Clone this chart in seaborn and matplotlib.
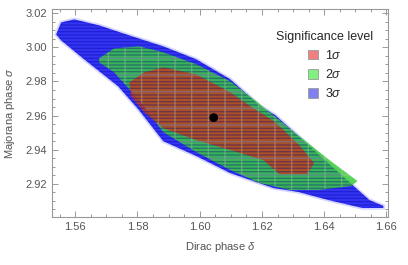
import matplotlib
matplotlib.use('Agg')
import matplotlib.pyplot as plt
import seaborn as sns
from matplotlib.ticker import MultipleLocator, FormatStrFormatter
from matplotlib.patches import Patch

# region outlines: (Dirac phase delta, Majorana phase sigma)
delta_3s = [1.5539, 1.5555, 1.5597, 1.5677, 1.5774, 1.5883, 1.5989, 1.6098, 1.6195, 1.6243,
            1.6349, 1.6458, 1.6545, 1.6590, 1.6590, 1.6523, 1.6413, 1.6317, 1.6237, 1.6098,
            1.5989, 1.5883, 1.5803, 1.5738, 1.5629, 1.5555]
sigma_3s = [3.0076, 3.0146, 3.0164, 3.0129, 3.0070, 3.0006, 2.9930, 2.9813, 2.9655, 2.9602,
            2.9427, 2.9246, 2.9105, 2.9070, 2.9058, 2.9058, 2.9105, 2.9152, 2.9175, 2.9263,
            2.9363, 2.9450, 2.9637, 2.9772, 2.9930, 3.0041]

delta_2s = [1.5677, 1.5725, 1.5806, 1.5883, 1.5989, 1.6098, 1.6182, 1.6288, 1.6417, 1.6507,
            1.6487, 1.6384, 1.6288, 1.6192, 1.6098, 1.5989, 1.5883, 1.5806, 1.5725, 1.5677]
sigma_2s = [2.9936, 2.9994, 3.0006, 2.9971, 2.9901, 2.9801, 2.9684, 2.9526, 2.9339, 2.9216,
            2.9187, 2.9164, 2.9164, 2.9205, 2.9281, 2.9386, 2.9503, 2.9690, 2.9854, 2.9912]

delta_1s = [1.5774, 1.5822, 1.5883, 1.5989, 1.6098, 1.6163, 1.6243, 1.6320, 1.6368,
            1.6346, 1.6256, 1.6204, 1.6098, 1.5989, 1.5883, 1.5822, 1.5780]
sigma_1s = [2.9795, 2.9854, 2.9883, 2.9842, 2.9737, 2.9655, 2.9561, 2.9427, 2.9322,
            2.9257, 2.9257, 2.9339, 2.9398, 2.9456, 2.9526, 2.9620, 2.9713]

best_delta = [1.6045]
best_sigma = [2.9588]

levels = ['1$\\sigma$', '2$\\sigma$', '3$\\sigma$']
legend_colors = ['#f08080', '#80f080', '#8080f0']

sns.set_style('ticks', {'axes.facecolor': 'white', 'figure.facecolor': 'white'})
plt.rcParams['font.family'] = ['Liberation Sans', 'DejaVu Sans']
plt.rcParams['mathtext.fontset'] = 'custom'
plt.rcParams['mathtext.it'] = 'Liberation Sans:italic'
plt.rcParams['mathtext.rm'] = 'Liberation Sans'
plt.rcParams['hatch.linewidth'] = 1.0

fig, ax = plt.subplots(figsize=(4.08, 2.65), dpi=100)
fig.subplots_adjust(left=0.127, right=0.951, bottom=0.181, top=0.966)
ax.set_facecolor('white')

# fuzzy outer edge of the cloud
ax.fill(delta_3s, sigma_3s, facecolor='none', edgecolor=(0.45, 0.45, 1.0, 0.3), lw=2.5, zorder=0)
ax.fill(delta_3s, sigma_3s, color='#1e1ef5', alpha=0.9, lw=0, zorder=1)
ax.fill(delta_2s, sigma_2s, color='#3ccc3c', alpha=0.85, lw=0, zorder=2)
ax.fill(delta_1s, sigma_1s, color='#c0401e', alpha=0.85, lw=0, zorder=3)
ax.fill(delta_3s, sigma_3s, facecolor='none', edgecolor=(0.0, 0.0, 0.55, 0.35), hatch='-----', lw=0, zorder=4)
ax.fill(delta_2s, sigma_2s, facecolor='none', edgecolor=(0.75, 0.8, 0.75, 0.35), hatch='+', lw=0, zorder=4)

sns.scatterplot(x=best_delta, y=best_sigma, ax=ax, color='black', s=40, zorder=5, edgecolor='none')

ax.set_xlim(1.5525, 1.6605)
ax.set_ylim(2.9005, 3.0225)
ax.xaxis.set_major_locator(MultipleLocator(0.02))
ax.xaxis.set_minor_locator(MultipleLocator(0.005))
ax.yaxis.set_major_locator(MultipleLocator(0.02))
ax.yaxis.set_minor_locator(MultipleLocator(0.005))
ax.xaxis.set_major_formatter(FormatStrFormatter('%.2f'))
ax.yaxis.set_major_formatter(FormatStrFormatter('%.2f'))
ax.tick_params(which='both', direction='in', top=True, right=True, color='#999999',
               labelcolor='#555555', labelsize=8, width=0.7)
ax.tick_params(which='major', length=4)
ax.tick_params(which='minor', length=2)
for sp in ax.spines.values():
    sp.set_color('#999999')
    sp.set_linewidth(0.8)

ax.set_xlabel('Dirac phase $\\delta$', fontsize=8, color='#555555', labelpad=6)
ax.set_ylabel('Majorana phase $\\sigma$', fontsize=8, color='#555555', labelpad=6)

handles = [Patch(facecolor=c, edgecolor='#999999', lw=0.6) for c in legend_colors]
leg = ax.legend(handles, levels, title='Significance level', frameon=False, fontsize=9,
                title_fontsize=9, loc='upper right', bbox_to_anchor=(0.99, 0.95),
                handlelength=0.8, handleheight=0.8, handletextpad=0.6, labelspacing=0.5)

fig.savefig('out.png', dpi=100, facecolor='white')
